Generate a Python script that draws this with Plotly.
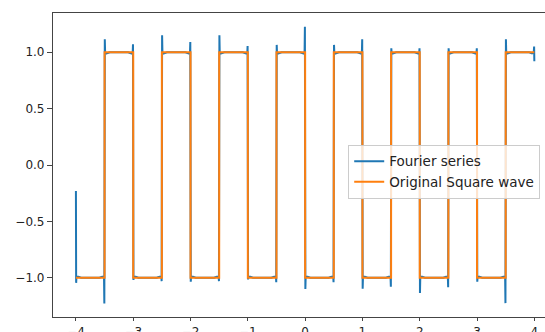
import plotly.graph_objects as go

# Square wave: unit period, switching every half period
x_start, x_end = -4.0, 4.0
edges = [-3.5, -3.0, -2.5, -2.0, -1.5, -1.0, -0.5, 0.0, 0.5, 1.0, 1.5, 2.0, 2.5, 3.0, 3.5]
levels = [-1, 1, -1, 1, -1, 1, -1, 1, -1, 1, -1, 1, -1, 1, -1, 1]

# Fourier partial sum sampled on a grid: overshoot values at the last sample
# before each edge and the first sample after it
before_edge = [-1.228, 1.07, -1.03, 1.09, -1.03, 1.055, -1.04, 1.225,
               -1.04, 1.115, -1.08, 1.035, -1.085, 1.035, -1.225]
after_edge = [1.115, -1.02, 1.15, -1.035, 1.15, -1.015, 1.065, -1.10,
              1.065, -1.097, 1.035, -1.135, 1.035, -1.035, 1.115]
fs_first = [-0.23, -1.045]   # first two samples at x = -4
fs_last = [1.05, 0.92]       # last two samples at x = 4

# sampling step and ringing widths used to shape the series around edges
step = 0.004
ring = 0.04
settle = 0.09

# ---- Fourier series polyline ----
fx, fy = [x_start, x_start + step], list(fs_first)
fx += [x_start + 2.5 * step, x_start + ring, x_start + settle]
fy += [levels[0] * 0.985, levels[0] * 0.99, levels[0]]
for i, e in enumerate(edges):
    lv_prev, lv_next = levels[i], levels[i + 1]
    fx += [e - settle, e - ring, e - 2.5 * step, e - step,
           e + step, e + 2.5 * step, e + ring, e + settle]
    fy += [lv_prev, lv_prev * 0.99, lv_prev * 0.985, before_edge[i],
           after_edge[i], lv_next * 0.985, lv_next * 0.99, lv_next]
fx += [x_end - settle, x_end - ring, x_end - 2.5 * step, x_end - step, x_end]
fy += [levels[-1], levels[-1] * 0.99, levels[-1], fs_last[0], fs_last[1]]

# ---- Square wave polyline ----
sx, sy = [x_start], [levels[0]]
for i, e in enumerate(edges):
    sx += [e, e]
    sy += [levels[i], levels[i + 1]]
sx.append(x_end); sy.append(levels[-1])

fig = go.Figure()
fig.add_trace(go.Scatter(x=fx, y=fy, mode="lines", name="Fourier series",
                         line=dict(color="#1f77b4", width=2)))
fig.add_trace(go.Scatter(x=sx, y=sy, mode="lines", name="Original Square wave",
                         line=dict(color="#ff7f0e", width=2)))

axis_font = dict(family="DejaVu Sans", size=12, color="#222")
fig.update_layout(
    width=545, height=332,
    margin=dict(l=53, r=0, t=13, b=15, autoexpand=False),
    paper_bgcolor="white", plot_bgcolor="white",
    showlegend=True,
    legend=dict(x=0.6, y=0.566, xanchor="left", yanchor="top",
                bgcolor="rgba(255,255,255,0.8)", bordercolor="#cccccc",
                borderwidth=1, font=dict(family="DejaVu Sans", size=13.5, color="#222"),
                tracegroupgap=0, itemwidth=30),
)
fig.update_xaxes(range=[-4.4, 4.186], tickvals=[-4, -3, -2, -1, 0, 1, 2, 3, 4],
                 ticktext=["\u22124", "\u22123", "\u22122", "\u22121", "0", "1", "2", "3", "4"],
                 showgrid=False, zeroline=False, showline=True, linecolor="#444",
                 linewidth=1.2, mirror=True, ticks="outside", ticklen=3,
                 tickcolor="#444", tickfont=axis_font)
fig.update_yaxes(range=[-1.348, 1.348], tickvals=[-1.0, -0.5, 0.0, 0.5, 1.0],
                 ticktext=["\u22121.0", "\u22120.5", "0.0", "0.5", "1.0"],
                 showgrid=False, zeroline=False, showline=True, linecolor="#444",
                 linewidth=1.2, ticks="outside", ticklen=5, tickcolor="#444",
                 tickfont=axis_font)

fig.write_html("out.html")
